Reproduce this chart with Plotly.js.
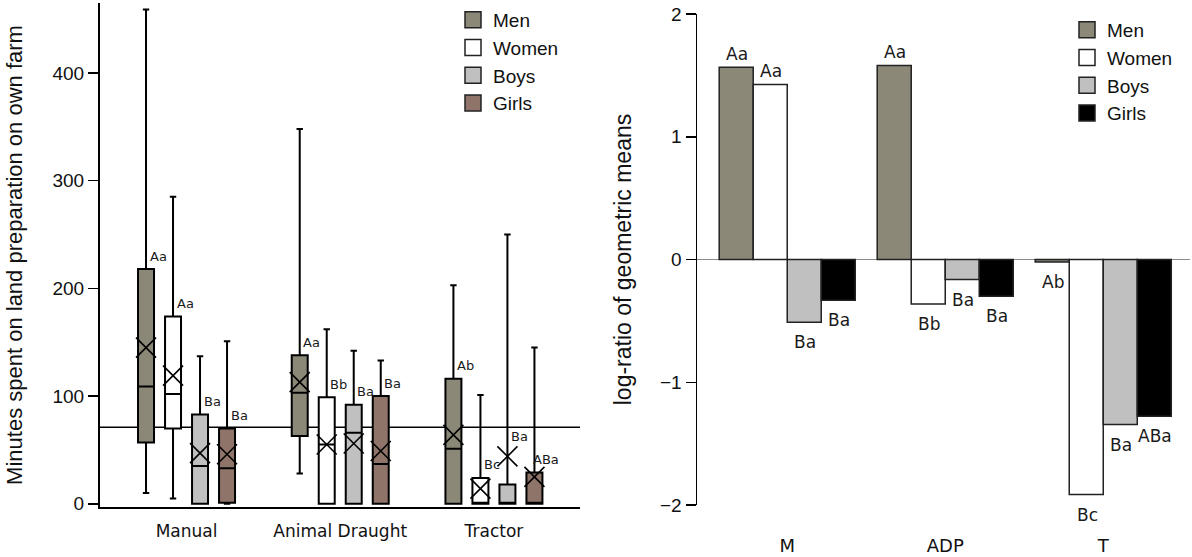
<!DOCTYPE html>
<html>
<head>
<meta charset="utf-8">
<script src="https://cdn.plot.ly/plotly-3.0.1.min.js"></script>
<style>
  html, body { margin: 0; padding: 0; background: #ffffff; }
  #chart { width: 1192px; height: 557px; }
</style>
</head>
<body>
<div id="chart"></div>
<script>
// ---------------- DATA ----------------
const categories = ['Manual', 'Animal Draught', 'Tractor'];
const seriesNames = ['Men', 'Women', 'Boys', 'Girls'];

// Left panel: box statistics (minutes), per category
const menQ1 = [57, 63, 0];
const menMedian = [109, 103, 51];
const menQ3 = [218, 138, 116];
const menLow = [10, 28, 0];
const menHigh = [459, 348, 203];
const menMean = [145, 113, 64];

const womenQ1 = [70, 0, 0];
const womenMedian = [102, 55, 0];
const womenQ3 = [174, 99, 24];
const womenLow = [5, 0, 0];
const womenHigh = [285, 162, 101];
const womenMean = [119, 55, 14];

const boysQ1 = [0, 0, 0];
const boysMedian = [35, 66, 0];
const boysQ3 = [83, 92, 18];
const boysLow = [0, 0, 0];
const boysHigh = [137, 142, 250];
const boysMean = [47, 56, 44];

const girlsQ1 = [1, 0, 0];
const girlsMedian = [33, 37, 0];
const girlsQ3 = [70, 100, 29];
const girlsLow = [0, 0, 0];
const girlsHigh = [151, 133, 145];
const girlsMean = [46, 49, 25];

const referenceLine = 71;

const menBoxLabels = ['Aa', 'Aa', 'Ab'];
const womenBoxLabels = ['Aa', 'Bb', 'Bc'];
const boysBoxLabels = ['Ba', 'Ba', 'Ba'];
const girlsBoxLabels = ['Ba', 'Ba', 'ABa'];

// Right panel: log-ratio of geometric means
const ratioCategories = ['M', 'ADP', 'T'];
const menRatio = [1.567, 1.581, -0.02];
const womenRatio = [1.426, -0.362, -1.915];
const boysRatio = [-0.511, -0.163, -1.345];
const girlsRatio = [-0.332, -0.299, -1.277];

const menRatioLabels = ['Aa', 'Aa', 'Ab'];
const womenRatioLabels = ['Aa', 'Bb', 'Bc'];
const boysRatioLabels = ['Ba', 'Ba', 'Ba'];
const girlsRatioLabels = ['Ba', 'Ba', 'ABa'];

// ---------------- STYLE ----------------
const boxColors = ['#8b8878', '#ffffff', '#c0c0c0', '#8f7469'];
const barColors = ['#8b8878', '#ffffff', '#c0c0c0', '#000000'];
const numFont = 'Liberation Sans, Arial, sans-serif';
const labFont = 'DejaVu Sans, Verdana, sans-serif';
const ink = '#111111';

const boxStep = 0.1757;      // spacing between boxes in a group (axis units)
const boxWidth = 0.104;      // box width (axis units)

const boxSets = [
  {q1: menQ1, med: menMedian, q3: menQ3, lo: menLow, hi: menHigh, mean: menMean, lab: menBoxLabels},
  {q1: womenQ1, med: womenMedian, q3: womenQ3, lo: womenLow, hi: womenHigh, mean: womenMean, lab: womenBoxLabels},
  {q1: boysQ1, med: boysMedian, q3: boysQ3, lo: boysLow, hi: boysHigh, mean: boysMean, lab: boysBoxLabels},
  {q1: girlsQ1, med: girlsMedian, q3: girlsQ3, lo: girlsLow, hi: girlsHigh, mean: girlsMean, lab: girlsBoxLabels}
];
const barSets = [
  {v: menRatio, lab: menRatioLabels},
  {v: womenRatio, lab: womenRatioLabels},
  {v: boysRatio, lab: boysRatioLabels},
  {v: girlsRatio, lab: girlsRatioLabels}
];

const traces = [];
const annotations = [];

boxSets.forEach((s, i) => {
  const off = (i - 1.5) * boxStep;
  const xs = categories.map((c, g) => g + off);
  traces.push({
    type: 'box', xaxis: 'x', yaxis: 'y', name: seriesNames[i], showlegend: false,
    x: xs, q1: s.q1, median: s.med, q3: s.q3, lowerfence: s.lo, upperfence: s.hi,
    width: boxWidth, whiskerwidth: 0.4, boxpoints: false,
    fillcolor: boxColors[i], line: {color: '#000000', width: 2},
    hoverinfo: 'skip'
  });
  traces.push({
    type: 'scatter', mode: 'markers', xaxis: 'x', yaxis: 'y', showlegend: false,
    x: xs, y: s.mean, cliponaxis: false,
    marker: {symbol: 'x-thin-open', size: 20, color: '#000000', line: {color: '#000000', width: 1.6}},
    hoverinfo: 'skip'
  });
  xs.forEach((x, g) => {
    const above = s.mean[g] > s.q3[g];
    annotations.push({
      xref: 'x', yref: 'y', x: x, y: Math.max(s.q3[g], s.mean[g]),
      text: s.lab[g], showarrow: false, xanchor: 'center', yanchor: 'middle',
      xshift: 12, yshift: above ? 20 : 13,
      font: {family: labFont, size: 13, color: '#1a1a1a'}
    });
  });
  // legend entry
  traces.push({
    type: 'scatter', mode: 'markers', xaxis: 'x', yaxis: 'y', name: seriesNames[i],
    x: [null], y: [null], legend: 'legend',
    marker: {symbol: 'square', size: 16, color: boxColors[i], line: {color: '#222222', width: 1.5}}
  });
});

barSets.forEach((s, i) => {
  traces.push({
    type: 'bar', xaxis: 'x2', yaxis: 'y2', name: seriesNames[i], showlegend: false,
    x: ratioCategories, y: s.v,
    marker: {color: barColors[i], line: {color: '#222222', width: 1.5}},
    hoverinfo: 'skip'
  });
  traces.push({
    type: 'scatter', mode: 'markers', xaxis: 'x2', yaxis: 'y2', name: seriesNames[i],
    x: [null], y: [null], legend: 'legend2',
    marker: {symbol: 'square', size: 16, color: barColors[i], line: {color: '#222222', width: 1.5}}
  });
  const barPx = 34;
  ratioCategories.forEach((c, g) => {
    const v = s.v[g];
    annotations.push({
      xref: 'x2', yref: 'y2', x: c, y: v,
      text: s.lab[g], showarrow: false, xanchor: 'center', yanchor: 'middle',
      xshift: (i - 1.5) * barPx + 1, yshift: v >= 0 ? 13 : -20,
      font: {family: labFont, size: 17, color: '#1a1a1a'}
    });
  });
});

const W = 1192, H = 557;
const px = v => v / W;
const py = v => 1 - v / H;

const layout = {
  width: W, height: H,
  margin: {l: 0, r: 0, t: 0, b: 0},
  paper_bgcolor: '#ffffff', plot_bgcolor: 'rgba(0,0,0,0)',
  font: {family: numFont, color: ink},
  boxmode: 'overlay',
  barmode: 'group', bargap: 0.139, bargroupgap: 0,
  xaxis: {
    domain: [px(100), px(580)], range: [-0.563, 2.560], anchor: 'y',
    tickvals: [0, 1, 2], ticktext: categories, ticks: '',
    tickfont: {family: labFont, size: 17, color: ink}, ticklabelstandoff: 8,
    showline: true, linecolor: '#000000', linewidth: 2,
    showgrid: false, zeroline: false
  },
  yaxis: {
    domain: [py(507), py(3)], range: [-3, 465], anchor: 'x',
    tickvals: [0, 100, 200, 300, 400], ticks: 'outside', ticklen: 10, tickwidth: 1.5, tickcolor: '#000000',
    tickfont: {family: numFont, size: 19, color: ink},
    showline: true, linecolor: '#000000', linewidth: 2,
    showgrid: false, zeroline: false,
    title: {text: 'Minutes spent on land preparation on own farm', font: {family: numFont, size: 22, color: ink}, standoff: 24}
  },
  xaxis2: {
    domain: [px(697), px(1190)], range: [-0.571, 2.549], anchor: 'y2', type: 'category',
    ticks: '', tickfont: {family: labFont, size: 18, color: ink}, ticklabelstandoff: 28,
    showline: false, showgrid: false, zeroline: false
  },
  yaxis2: {
    domain: [py(505), py(14)], range: [-2, 2], anchor: 'x2',
    dtick: 1, ticks: 'outside', ticklen: 10, tickwidth: 1.5, tickcolor: '#000000',
    tickfont: {family: numFont, size: 19, color: ink},
    showline: true, linecolor: '#000000', linewidth: 1.5,
    showgrid: false, zeroline: true, zerolinecolor: '#8a8a8a', zerolinewidth: 1.5,
    title: {text: 'log-ratio of geometric means', font: {family: numFont, size: 23, color: ink}, standoff: 22}
  },
  shapes: [{
    type: 'line', xref: 'x domain', yref: 'y', x0: 0, x1: 1, y0: referenceLine, y1: referenceLine,
    line: {color: '#000000', width: 1.5}, layer: 'below'
  }],
  annotations: annotations,
  legend: {
    x: px(453), y: py(1), xanchor: 'left', yanchor: 'top',
    bgcolor: 'rgba(0,0,0,0)', font: {family: numFont, size: 19, color: ink}
  },
  legend2: {
    x: px(1067), y: py(11), xanchor: 'left', yanchor: 'top',
    bgcolor: 'rgba(0,0,0,0)', font: {family: numFont, size: 19, color: ink}
  }
};

Plotly.newPlot('chart', traces, layout, {staticPlot: true, displayModeBar: false});
</script>
</body>
</html>
